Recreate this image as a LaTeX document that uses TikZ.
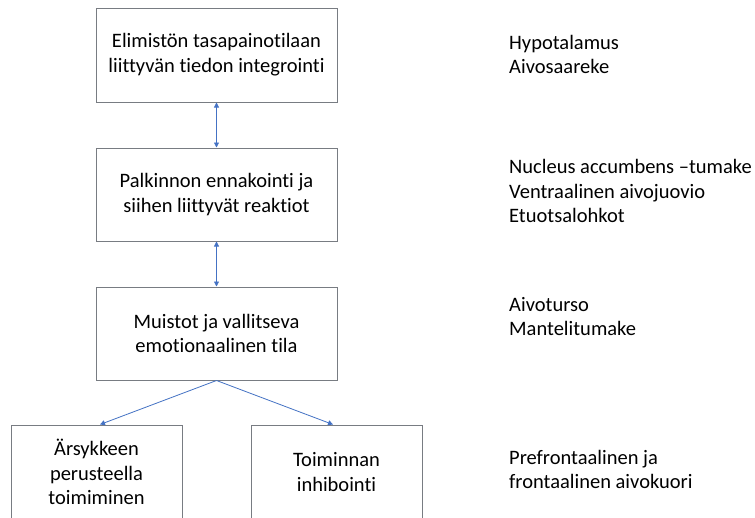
\documentclass[tikz,border=0pt]{standalone}
\usepackage{fontspec}
\setmainfont{Carlito}[Ligatures={NoCommon,NoRare,NoContextual}]
\usetikzlibrary{arrows.meta}
\definecolor{boxgray}{RGB}{120,124,130}
\definecolor{arrowblue}{RGB}{68,114,196}
\begin{document}
\begin{tikzpicture}[x=1pt,y=-1pt,
  txt/.style={font=\fontsize{20.5}{24.8}\selectfont},
  box/.style={txt, draw=boxgray, line width=1pt, align=center, inner sep=0pt, minimum width=241pt, minimum height=93pt},
  smallbox/.style={box, minimum width=171pt, minimum height=94pt},
  lbl/.style={txt, anchor=west, align=left, inner sep=0pt},
  conn/.style={draw=arrowblue, line width=0.8pt, -{Triangle[width=5pt,length=5pt]}},
  both/.style={draw=arrowblue, line width=0.8pt, {Triangle[width=5pt,length=5pt]}-{Triangle[width=5pt,length=5pt]}}]
\useasboundingbox (0,0) rectangle (755,517);
\clip (0,0) rectangle (755,517);
\fill[white] (0,0) rectangle (755,517);

\node[box, minimum height=94pt] (b1) at (216.5,55) {Elimistön tasapainotilaan\\liittyvän tiedon integrointi};
\node[box] (b2) at (216.5,194.5) {Palkinnon ennakointi ja\\siihen liittyvät reaktiot};
\node[box] (b3) at (216.5,333.5) {Muistot ja vallitseva\\emotionaalinen tila};
\node[smallbox] (b4) at (96.5,472) {Ärsykkeen\\perusteella\\toimiminen};
\node[smallbox] (b5) at (336.5,472) {Toiminnan\\inhibointi};

\draw[both] (b1) -- (b2);
\draw[both] (b2) -- (b3);
\draw[conn] (b3.south) -- ([xshift=3.5pt]b4.north);
\draw[conn] (b3.south) -- ([xshift=-3.5pt]b5.north);

\node[lbl] (l1) at (509,54.5) {Hypotalamus\\Aivosaareke};
\node[lbl] (l2) at (509,191) {Nucleus accumbens –tumake\\Ventraalinen aivojuovio\\Etuotsalohkot};
\node[lbl] (l3) at (509,316.5) {Aivoturso\\Mantelitumake};
\node[lbl] (l4) at (509,469.5) {Prefrontaalinen ja\\frontaalinen aivokuori};
\end{tikzpicture}
\end{document}
